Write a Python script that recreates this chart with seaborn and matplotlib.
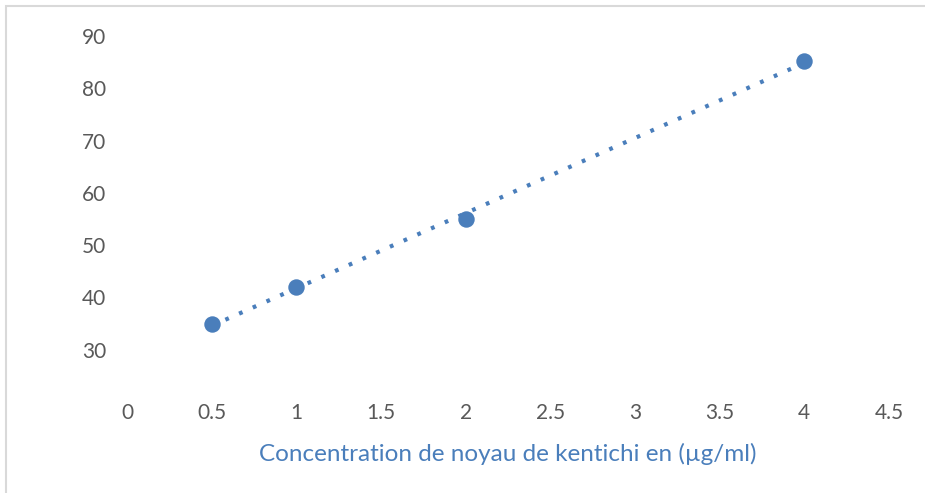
import numpy as np
import pandas as pd
import seaborn as sns
import matplotlib.pyplot as plt
from matplotlib.patches import Rectangle

# data
conc = [0.5, 1, 2, 4]
inhibition = [35, 42, 55, 85.3]
x_ticks = [0, 0.5, 1, 1.5, 2, 2.5, 3, 3.5, 4, 4.5]
y_ticks = [30, 40, 50, 60, 70, 80, 90]

df = pd.DataFrame({'conc': conc, 'val': inhibition})

sns.set_style('white')
plt.rcParams['font.family'] = ['Lato', 'DejaVu Sans']

blue = '#4a7ebb'
fig = plt.figure(figsize=(9.25, 4.93), dpi=100)
ax = fig.add_axes([127/925, 1 - 402/493, (889 - 127)/925, (402 - 36)/493])

sns.regplot(x='conc', y='val', data=df, ci=None, scatter=False, truncate=True, ax=ax,
            line_kws=dict(color=blue, lw=3, linestyle=(0, (0.9, 2.7)), dash_capstyle='butt'))
sns.scatterplot(x='conc', y='val', data=df, ax=ax, color=blue, s=140, edgecolor=blue,
                linewidth=0, zorder=3)

ax.set_xlim(0, 4.5)
ax.set_ylim(20, 90)
ax.set_xticks(x_ticks)
ax.set_xticklabels([('%g' % t) for t in x_ticks])
ax.set_yticks(y_ticks)
ax.tick_params(axis='both', length=0, labelsize=15, labelcolor='#595959')
ax.tick_params(axis='x', pad=1)
ax.tick_params(axis='y', pad=15)
for s in ax.spines.values():
    s.set_visible(False)
ax.set_ylabel('')
ax.set_xlabel('Concentration de noyau de kentichi en (µg/ml)', fontsize=17.5, color=blue, labelpad=14)

# light grey chart frame, top and left edges visible
fig.patches.append(Rectangle((6/925, -0.05), 1.2, 1 - 6/493 + 0.05, transform=fig.transFigure,
                             fill=False, edgecolor='#d9d9d9', lw=1.5))

fig.savefig('out.png', dpi=100)
